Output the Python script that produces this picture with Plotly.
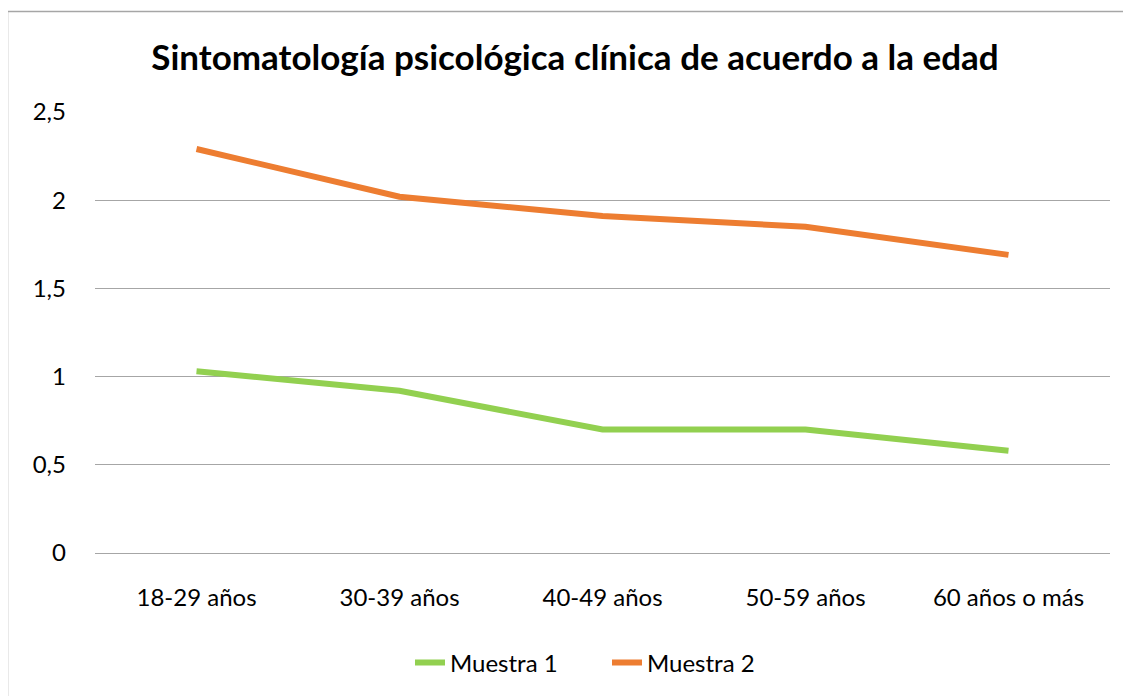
import plotly.graph_objects as go

categories = ["18-29 años", "30-39 años", "40-49 años", "50-59 años", "60 años o más"]
muestra1 = [1.03, 0.92, 0.70, 0.70, 0.58]
muestra2 = [2.29, 2.02, 1.91, 1.85, 1.69]
y_ticks = [0, 0.5, 1, 1.5, 2, 2.5]
y_ticklabels = ["0", "0,5", "1", "1,5", "2", "2,5"]

W, H = 1131, 696
OFF = 8  # page body margin
L, R, T, B = 87, 29, 104, 151
pw, ph = W - L - R, H - T - B

def px_x(px):
    return (px - OFF - L) / pw

def px_y(py):
    return (H - B - (py - OFF)) / ph

FONT = "Lato"

fig = go.Figure()
fig.add_trace(go.Scatter(x=categories, y=muestra1, mode="lines", name="Muestra 1",
                         line=dict(color="#92D050", width=6)))
fig.add_trace(go.Scatter(x=categories, y=muestra2, mode="lines", name="Muestra 2",
                         line=dict(color="#ED7D31", width=6)))

fig.update_layout(
    width=W, height=H,
    margin=dict(l=L, r=R, t=T, b=B),
    paper_bgcolor="white", plot_bgcolor="white",
    font=dict(family=FONT, size=24, color="#000000"),
    title=dict(text="<b>Sintomatología psicológica clínica de acuerdo a la edad</b>",
               x=px_x(575), xref="paper", xanchor="center",
               y=1 - (58 - OFF) / H, yanchor="middle",
               font=dict(family=FONT, size=35, color="#000000")),
    showlegend=True,
    legend=dict(orientation="h", x=px_x(607), xanchor="center", y=px_y(663), yanchor="middle",
                font=dict(family=FONT, size=24), traceorder="normal", entrywidth=152),
    xaxis=dict(type="category", range=[-0.5, 4.5], showgrid=False, showline=False,
               zeroline=False, ticks="", ticklabelstandoff=28, fixedrange=True),
    yaxis=dict(range=[0, 2.5], tickvals=y_ticks, ticktext=y_ticklabels,
               showgrid=True, gridcolor="#A6A6A6", gridwidth=1,
               zeroline=True, zerolinecolor="#A6A6A6", zerolinewidth=1,
               showline=False, ticks="", ticklabelstandoff=28),
    shapes=[dict(type="rect", xref="paper", yref="paper",
                 x0=px_x(7.5), x1=px_x(1160), y0=px_y(720), y1=px_y(11.5),
                 line=dict(color="#A6A6A6", width=1.5), fillcolor="rgba(0,0,0,0)", layer="below")],
)

fig.write_html("out.html")
